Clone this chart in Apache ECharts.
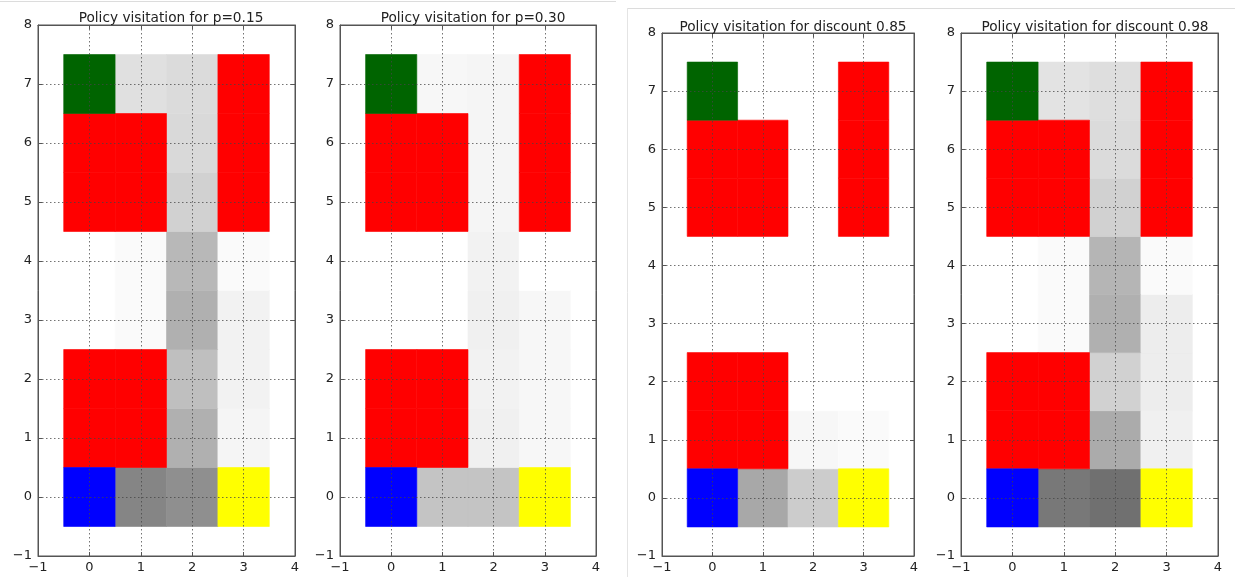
<!DOCTYPE html>
<html>
<head>
<meta charset="utf-8">
<script src="https://cdn.jsdelivr.net/npm/echarts@6/dist/echarts.min.js"></script>
<style>html,body{margin:0;padding:0;background:#fff;}#c{width:1235px;height:577px;}</style>
</head>
<body>
<div id="c"></div>
<script>
// ---- data ----
const titles = [
  'Policy visitation for p=0.15',
  'Policy visitation for p=0.30',
  'Policy visitation for discount 0.85',
  'Policy visitation for discount 0.98'
];
const xTickLabels = [-1, 0, 1, 2, 3, 4];
const yTickLabels = [-1, 0, 1, 2, 3, 4, 5, 6, 7, 8];
const columns = [0, 1, 2, 3];
const rows = [0, 1, 2, 3, 4, 5, 6, 7];
// visitation shade per cell (row = y from 0 to 7, columns x 0..3); null = special cell
const visitP015 = [
  [null, 0.48, 0.44, null],
  [null, null, 0.31, 0.04],
  [null, null, 0.25, 0.05],
  [0.00, 0.02, 0.31, 0.05],
  [0.00, 0.02, 0.28, 0.02],
  [null, null, 0.18, null],
  [null, null, 0.15, null],
  [null, 0.12, 0.14, null]
];
const visitP030 = [
  [null, 0.23, 0.23, null],
  [null, null, 0.06, 0.03],
  [null, null, 0.05, 0.03],
  [0.00, 0.00, 0.06, 0.03],
  [0.00, 0.00, 0.05, 0.00],
  [null, null, 0.04, null],
  [null, null, 0.04, null],
  [null, 0.03, 0.04, null]
];
const visitD085 = [
  [null, 0.34, 0.20, null],
  [null, null, 0.03, 0.02],
  [null, null, 0.00, 0.00],
  [0.00, 0.00, 0.00, 0.00],
  [0.00, 0.00, 0.00, 0.00],
  [null, null, 0.00, null],
  [null, null, 0.00, null],
  [null, 0.00, 0.00, null]
];
const visitD098 = [
  [null, 0.53, 0.56, null],
  [null, null, 0.33, 0.06],
  [null, null, 0.18, 0.07],
  [0.00, 0.02, 0.31, 0.07],
  [0.00, 0.02, 0.29, 0.02],
  [null, null, 0.18, null],
  [null, null, 0.14, null],
  [null, 0.11, 0.13, null]
];
const holeCells = [[0,6],[1,6],[0,5],[1,5],[3,7],[3,6],[3,5],[0,2],[1,2],[0,1],[1,1]];
const goalCells = [[0,7]];
const startCells = [[0,0]];
const endCells = [[3,0]];

// ---- layout / style ----
const panels = [
  {grid: {left: 38, top: 25, width: 257, height: 531}, titleX: 166, titleY: 6, values: visitP015},
  {grid: {left: 340, top: 25, width: 256, height: 531}, titleX: 468, titleY: 6, values: visitP030},
  {grid: {left: 662, top: 33, width: 252, height: 523}, titleX: 788, titleY: 15, values: visitD085},
  {grid: {left: 961, top: 33, width: 257, height: 523}, titleX: 1090, titleY: 15, values: visitD098}
];
const frameColor = '#555';
const labelColor = '#222';
const specialColors = {hole: '#ff0000', goal: '#006400', start: '#0000ff', end: '#ffff00'};

function grayOf(v) {
  const g = Math.round(255 * (1 - v));
  return 'rgb(' + g + ',' + g + ',' + g + ')';
}
function fmt(v) { return String(v).replace('-', '\u2212'); }

const option = {
  animation: false,
  backgroundColor: '#fff',
  title: [], grid: [], xAxis: [], yAxis: [], series: [],
  graphic: [
    {type: 'line', shape: {x1: 0, y1: 1.5, x2: 616, y2: 1.5}, style: {stroke: '#dcdcdc', lineWidth: 1}},
    {type: 'line', shape: {x1: 627, y1: 8.5, x2: 1235, y2: 8.5}, style: {stroke: '#dcdcdc', lineWidth: 1}},
    {type: 'line', shape: {x1: 627.5, y1: 8, x2: 627.5, y2: 577}, style: {stroke: '#e4e4e4', lineWidth: 1}}
  ]
};

panels.forEach(function (p, i) {
  option.title.push({
    text: titles[i], left: p.titleX, top: p.titleY, textAlign: 'center',
    textStyle: {fontFamily: 'DejaVu Sans', fontSize: 13.7, fontWeight: 'normal', color: '#222'}
  });
  option.grid.push(Object.assign({show: true, borderColor: frameColor, borderWidth: 1, backgroundColor: 'transparent'}, p.grid));
  const splitStyle = {show: true, lineStyle: {color: '#444', width: 1, type: [1.5, 2.5], opacity: 0.75}};
  const tickStyle = {show: true, inside: true, length: 4, lineStyle: {color: frameColor}};
  const lineStyle = {show: true, onZero: false, lineStyle: {color: frameColor}};
  const labelStyle = {fontFamily: 'DejaVu Sans', fontSize: 13, color: labelColor, formatter: fmt};
  option.xAxis.push({
    type: 'value', gridIndex: i, min: xTickLabels[0], max: xTickLabels[xTickLabels.length - 1], interval: 1,
    position: 'bottom', z: 5,
    axisLine: lineStyle, axisTick: tickStyle,
    axisLabel: Object.assign({margin: 5}, labelStyle), splitLine: splitStyle
  });
  option.xAxis.push({
    type: 'value', gridIndex: i, min: xTickLabels[0], max: xTickLabels[xTickLabels.length - 1], interval: 1,
    position: 'top', z: 5,
    axisLine: lineStyle, axisTick: tickStyle,
    axisLabel: {show: false}, splitLine: {show: false}
  });
  option.yAxis.push({
    type: 'value', gridIndex: i, min: yTickLabels[0], max: yTickLabels[yTickLabels.length - 1], interval: 1,
    position: 'left', z: 5,
    axisLine: lineStyle, axisTick: tickStyle,
    axisLabel: Object.assign({margin: 6}, labelStyle), splitLine: splitStyle
  });
  option.yAxis.push({
    type: 'value', gridIndex: i, min: yTickLabels[0], max: yTickLabels[yTickLabels.length - 1], interval: 1,
    position: 'right', z: 5,
    axisLine: lineStyle, axisTick: tickStyle,
    axisLabel: {show: false}, splitLine: {show: false}
  });

  const data = [];
  rows.forEach(function (y) {
    columns.forEach(function (x) {
      const v = p.values[y][x];
      if (v !== null) data.push({value: [x, y, v], itemStyle: {color: grayOf(v)}});
    });
  });
  holeCells.forEach(function (c) { data.push({value: [c[0], c[1], 0], itemStyle: {color: specialColors.hole}}); });
  goalCells.forEach(function (c) { data.push({value: [c[0], c[1], 0], itemStyle: {color: specialColors.goal}}); });
  startCells.forEach(function (c) { data.push({value: [c[0], c[1], 0], itemStyle: {color: specialColors.start}}); });
  endCells.forEach(function (c) { data.push({value: [c[0], c[1], 0], itemStyle: {color: specialColors.end}}); });

  option.series.push({
    type: 'custom', xAxisIndex: i * 2, yAxisIndex: i * 2, z: 1, silent: true,
    data: data,
    renderItem: function (params, api) {
      const x = api.value(0), y = api.value(1);
      const a = api.coord([x - 0.5, y + 0.5]);
      const b = api.coord([x + 0.5, y - 0.5]);
      const col = api.visual('color');
      return {
        type: 'rect',
        shape: {x: a[0], y: a[1], width: b[0] - a[0], height: b[1] - a[1]},
        style: {fill: col, stroke: col, lineWidth: 0.6}
      };
    }
  });
});

const chart = echarts.init(document.getElementById('c'), null, {renderer: 'canvas'});
chart.setOption(option);
</script>
</body>
</html>
